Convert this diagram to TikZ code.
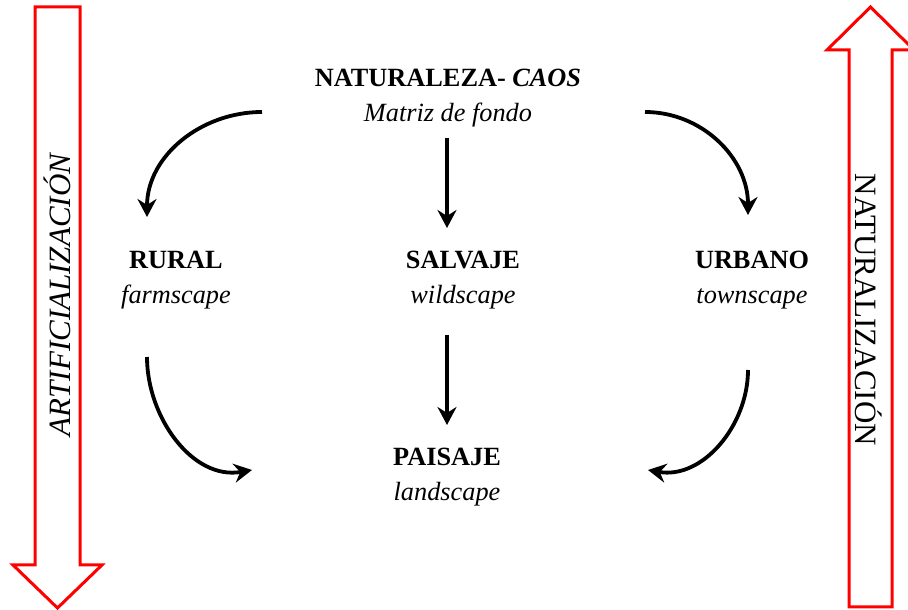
\documentclass[tikz,border=0pt]{standalone}
\usepackage{fontspec}
\setmainfont{Liberation Serif}
\usetikzlibrary{arrows.meta}
\begin{document}
\begin{tikzpicture}[x=1pt,y=1pt,
  lbl/.style={align=center,font=\fontsize{26.3}{35}\selectfont,inner sep=0pt},
  side/.style={font=\fontsize{31}{33}\selectfont,inner sep=0pt},
  bigarrow/.style={draw=red,line width=3pt,fill=white,line join=miter},
  flow/.style={line width=3.8pt,-{Stealth[length=18pt,width=19pt,inset=6pt]}}]
\useasboundingbox (0,0) rectangle (908,610);
% side arrows
\draw[bigarrow] (35,603)--(80,603)--(80,45)--(102,45)--(57.5,2)--(13,45)--(35,45)--cycle;
\draw[bigarrow] (849,3)--(892,3)--(892,560)--(914,560)--(870.5,603)--(827,560)--(849,560)--cycle;
\node[side,rotate=90] (art) at (57,315) {\itshape ARTIFICIALIZACIÓN};
\node[side,rotate=-90] (nat) at (869,300) {NATURALIZACIÓN};
% labels
\node[lbl] (top) at (448,512) {\textbf{NATURALEZA-} \textbf{\itshape CAOS}\\\textit{Matriz de fondo}};
\node[lbl] (rural) at (176,330) {\textbf{RURAL}\\\textit{farmscape}};
\node[lbl] (salv) at (463,330) {\textbf{SALVAJE}\\\textit{wildscape}};
\node[lbl] (urb) at (752,330) {\textbf{URBANO}\\\textit{townscape}};
\node[lbl] (pai) at (447,133) {\textbf{PAISAJE}\\\textit{landscape}};
% connector endpoints
\coordinate (lt1) at (262,498); \coordinate (lt2) at (147,393);
\coordinate (rt1) at (645,498); \coordinate (rt2) at (748,395);
\coordinate (m1) at (447,472);  \coordinate (m2) at (447,382);
\coordinate (m3) at (447,275);  \coordinate (m4) at (447,185);
\coordinate (bl1) at (147,253); \coordinate (bl2) at (252,140);
\coordinate (br1) at (748,240); \coordinate (br2) at (648,140);
\draw[flow] (lt1) to[out=180,in=90] (lt2);
\draw[flow] (rt1) to[out=0,in=90] (rt2);
\draw[flow] (m1) -- (m2);
\draw[flow] (m3) -- (m4);
\draw[flow] (bl1) to[out=-90,in=190] (bl2);
\draw[flow] (br1) to[out=-90,in=-10] (br2);
\end{tikzpicture}
\end{document}
